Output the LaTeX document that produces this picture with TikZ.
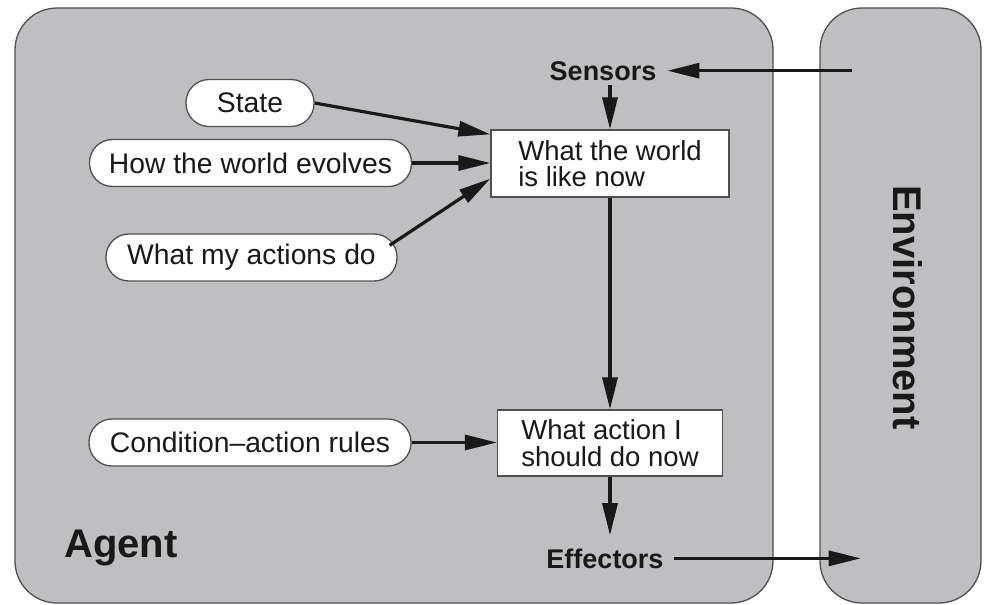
\documentclass[tikz,border=0pt]{standalone}
\usepackage{fontspec}
\setmainfont{Liberation Sans}
\usetikzlibrary{arrows.meta}
\definecolor{panel}{RGB}{191,191,193}
\definecolor{edge}{RGB}{80,80,80}
\definecolor{ink}{RGB}{25,25,25}
\begin{document}
\begin{tikzpicture}[x=1pt,y=-1pt,
  panelbox/.style={draw=edge, line width=1.3pt, fill=panel, rounded corners=42pt},
  knowledge/.style={draw=edge, line width=1.3pt, fill=white, rounded corners=23pt,
    minimum height=47pt, inner sep=0pt, font=\fontsize{28.3}{28}\selectfont, text=ink},
  statebox/.style={draw=edge, line width=1.3pt, fill=white, align=left, inner sep=0pt,
    font=\fontsize{27.5}{26.5}\selectfont, text=ink},
  tag/.style={inner sep=0pt, font=\bfseries\fontsize{27}{27}\selectfont, text=ink},
  flow/.style={draw=ink, line width=3.2pt, -{Triangle[length=32pt,width=15pt]}},
]
\path[use as bounding box] (0,0) rectangle (986,605);

% agent and environment panels
\draw[panelbox] (15,8) rectangle (773,603);
\draw[panelbox] (820,8) rectangle (981,603);

% background knowledge
\node[knowledge, minimum width=128pt] (state) at (250,103) {State};
\node[knowledge, minimum width=322pt] (evolve) at (250.5,163) {How the world evolves};
\node[knowledge, minimum width=291pt] (effects) at (251.5,257.5) {What my actions do};
\node[knowledge, minimum width=322pt] (rules) at (250,442.5) {Condition--action rules};

% internal state and decision
\node[statebox, minimum width=238pt, minimum height=67pt] (world) at (610,163.5)
  {What the world\\is like now};
\node[statebox, minimum width=225pt, minimum height=66pt] (action) at (610,443)
  {What action I\\should do now};

% labels
\node[tag, anchor=base] (sensors) at (603,80) {Sensors};
\node[tag, anchor=base] (effectors) at (605,568) {Effectors};
\node[tag, anchor=base west, font=\bfseries\fontsize{40}{40}\selectfont] (agent) at (64,557) {Agent};
\node[tag, rotate=-90, font=\bfseries\fontsize{40}{40}\selectfont] (environment) at (907.5,307.5) {Environment};

% percept and action ends at the environment
\path (sensors.east) ++(196,0) coordinate (envin);
\path (effectors.east) ++(197,0) coordinate (envout);

% connectors
\draw[flow] (envin) -- ([xshift=11pt]sensors.east);
\draw[flow] (sensors.south -| world.north) ++(0,5) -- (world.north);
\draw[flow] (state.east) -- ([yshift=-5pt]world.north west);
\draw[flow] (evolve.east) -- (evolve.east -| world.west);
\draw[flow] ([xshift=-8pt,yshift=-12pt]effects.north east) -- ([yshift=19pt]world.south west);
\draw[flow] (world.south) -- (action.north);
\draw[flow] (rules.east) -- (rules.east -| action.west);
\draw[flow, shorten >=13pt] (action.south) -- (action.south |- effectors.north);
\draw[flow] ([xshift=10pt]effectors.east) -- (envout);
\end{tikzpicture}
\end{document}
